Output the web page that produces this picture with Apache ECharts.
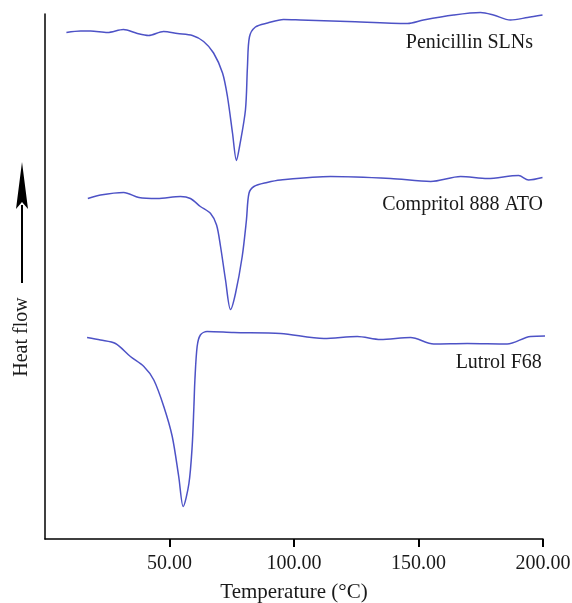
<!DOCTYPE html>
<html>
<head>
<meta charset="utf-8">
<style>
  html, body { margin: 0; padding: 0; background: #fff; }
  #chart { width: 572px; height: 603px; }
</style>
<script src="https://cdn.jsdelivr.net/npm/echarts@6/dist/echarts.min.js"></script>
</head>
<body>
<div id="chart"></div>
<script>
/* ── DSC thermograms: temperature (°C) vs heat flow (arbitrary, offset) ── */
var xTicks = [50, 100, 150, 200];

var penicillinT = [8.6, 14.3, 18.3, 25.1, 31.5, 37.1, 41.6, 47.6, 53.2, 59.2, 63.7, 67.7, 71.3, 73.3, 75.3, 76.9, 78.1, 80.5, 81.3, 82.1, 84.5, 89.4, 95.8, 102.6, 121.5, 145.6, 152.0, 164.1, 174.9, 180.1, 186.9, 193.8, 199.8];
var penicillinHF = [101.3, 101.6, 101.6, 101.3, 101.9, 101.1, 100.7, 101.5, 101.1, 100.7, 99.5, 97.2, 93.2, 88.4, 81.2, 75.7, 78.4, 85.8, 94.4, 100.4, 102.4, 103.2, 103.9, 103.8, 103.5, 103.1, 103.8, 104.8, 105.3, 104.8, 103.8, 104.3, 104.8];

var compritolT = [17.2, 22.3, 31.6, 37.7, 45.1, 54.4, 58.4, 62.4, 66.5, 68.9, 70.5, 72.5, 74.5, 76.5, 79.2, 80.9, 81.9, 83.9, 89.2, 94.6, 114.7, 138.8, 154.9, 166.9, 177.7, 190.2, 194.2, 199.8];
var compritolHF = [68.1, 68.8, 69.3, 68.3, 68.1, 68.5, 68.1, 66.5, 65.1, 62.8, 58.5, 51.8, 45.9, 49.1, 56.5, 63.8, 69.1, 70.5, 71.3, 71.8, 72.5, 72.1, 71.5, 72.5, 72.1, 72.7, 71.8, 72.3];

var lutrolT = [16.9, 22.3, 28.3, 34.3, 39.7, 43.7, 47.7, 51.1, 53.7, 55.5, 57.8, 59.1, 59.8, 60.2, 61.1, 62.4, 65.1, 75.8, 94.6, 112.0, 125.4, 134.7, 146.8, 156.1, 169.6, 185.6, 195.0, 202.3];
var lutrolHF = [40.3, 39.8, 39.1, 36.5, 34.5, 31.8, 26.5, 20.5, 12.5, 6.5, 11.1, 18.5, 26.5, 31.8, 38.5, 40.8, 41.5, 41.3, 41.1, 40.1, 40.5, 39.9, 40.3, 39.0, 39.1, 39.0, 40.5, 40.6];

var names = ['Penicillin SLNs', 'Compritol 888 ATO', 'Lutrol F68'];
// label anchors (right edge, in data units)
var labelX = [196, 200, 199.5];
var labelY = [99.2, 66.8, 35.2];

function pairs(xs, ys) {
  return xs.map(function(x, i) { return [x, ys[i]]; });
}

var FONT = '"Liberation Serif", "DejaVu Serif", serif';
var INK = '#1a1a1a';
var LINE = '#4d52c6';

var chart = echarts.init(document.getElementById('chart'), null, { renderer: 'canvas' });

var lineSeries = function(data) {
  return {
    type: 'line', data: data, smooth: 0.3, symbol: 'none', clip: false,
    lineStyle: { color: LINE, width: 1.5 }
  };
};

chart.setOption({
  backgroundColor: '#fff',
  animation: false,
  grid: { left: 45, right: 29, top: 14, bottom: 64, outerBoundsMode: 'none', containLabel: false },
  xAxis: {
    type: 'value', min: 0, max: 200, interval: 50,
    name: 'Temperature (°C)', nameLocation: 'middle', nameGap: 43,
    nameTextStyle: { fontFamily: FONT, fontSize: 21, color: INK },
    axisLine: { lineStyle: { color: '#000', width: 1.5 } },
    axisTick: { show: true, inside: false, length: 8, lineStyle: { color: '#000', width: 2 }, customValues: xTicks },
    axisLabel: { customValues: xTicks, margin: 15, fontFamily: FONT, fontSize: 20, color: INK,
      formatter: function(v) { return v.toFixed(2); } },
    splitLine: { show: false }
  },
  yAxis: {
    type: 'value', min: 0, max: 105,
    axisLine: { show: true, lineStyle: { color: '#000', width: 1.5 } },
    axisTick: { show: false },
    axisLabel: { show: false },
    splitLine: { show: false }
  },
  series: [
    lineSeries(pairs(penicillinT, penicillinHF)),
    lineSeries(pairs(compritolT, compritolHF)),
    lineSeries(pairs(lutrolT, lutrolHF))
  ]
});

/* ── Curve labels + heat flow arrow ── */
var g = names.map(function(n, i) {
  var p = chart.convertToPixel({ gridIndex: 0 }, [labelX[i], labelY[i]]);
  return {
    type: 'text', x: p[0], y: p[1],
    style: { text: n, align: 'right', verticalAlign: 'middle', font: '20px ' + FONT, fill: INK }
  };
});
g.push({
  type: 'text', x: 22, y: 337, rotation: Math.PI / 2,
  style: { text: 'Heat flow', align: 'center', verticalAlign: 'middle', font: '20px ' + FONT, fill: INK }
});
g.push({
  type: 'line', shape: { x1: 22, y1: 283, x2: 22, y2: 205 },
  style: { stroke: '#000', lineWidth: 2 }
});
g.push({
  type: 'polygon',
  shape: { points: [[22, 162], [28, 209], [22, 202], [16, 209]] },
  style: { fill: '#000' }
});
chart.setOption({ graphic: g });
</script>
</body>
</html>
